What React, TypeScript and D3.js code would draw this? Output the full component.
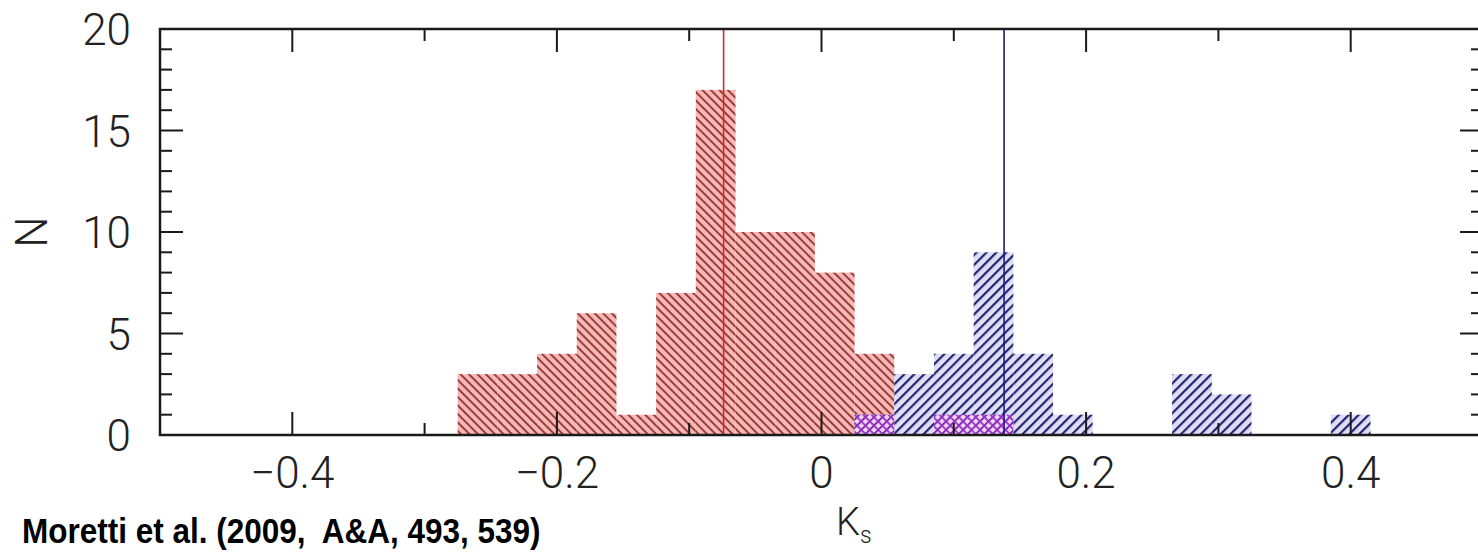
import * as d3 from 'd3';

const WIDTH = 1478;
const HEIGHT = 553;
const FRAME = { left: 160, right: 1483, top: 29, bottom: 435 };

// histogram bins (lower edge, bin width 0.03)
const binLo = [
    -0.275, -0.245, -0.215, -0.185, -0.155, -0.125, -0.095, -0.065, -0.035, -0.005, 0.025, 0.055,
    0.085, 0.115, 0.145, 0.175, 0.205, 0.235, 0.265, 0.295, 0.325, 0.355, 0.385,
];
const BIN_W = 0.03;
const redCounts = [3, 3, 4, 6, 1, 7, 17, 10, 10, 8, 4, 0, 1, 1, 0, 0, 0, 0, 0, 0, 0, 0, 0];
const blueCounts = [0, 0, 0, 0, 0, 0, 0, 0, 0, 0, 1, 3, 4, 9, 4, 1, 0, 0, 3, 2, 0, 0, 1];
const redMean = -0.074;
const blueMean = 0.138;

const xTickLabels = [-0.4, -0.2, 0, 0.2, 0.4];
const yTickLabels = [0, 5, 10, 15, 20];
const citation = 'Moretti et al. (2009,  A&A, 493, 539)';

const FONT = 'Roboto, "Liberation Sans", Arial, sans-serif';

export default function App() {
    const x = d3.scaleLinear().domain([-0.5, 0.5]).range([FRAME.left, FRAME.right]);
    const y = d3.scaleLinear().domain([0, 20]).range([FRAME.bottom, FRAME.top]);

    const xMinor = d3.range(-4, 5).map((d) => d / 10);
    const yMinor = d3.range(1, 20);
    const fmt = (v: number) => (v < 0 ? '\u2212' + Math.abs(v).toString() : v.toString());

    const overlap = redCounts.map((r, i) => Math.min(r, blueCounts[i]));

    const bars = (counts: number[], fill: string, key: string) =>
        counts.map((c, i) =>
            c > 0 ? (
                <rect
                    key={key + i}
                    x={x(binLo[i])}
                    y={y(c)}
                    width={x(binLo[i] + BIN_W) - x(binLo[i])}
                    height={y(0) - y(c)}
                    fill={fill}
                />
            ) : null
        );

    return (
        <svg
            width={WIDTH}
            height={HEIGHT}
            style={{ position: 'absolute', left: 0, top: 0, background: '#fff' }}
        >
            <defs>
                <pattern id="hatchRed" width={6} height={6} patternUnits="userSpaceOnUse" patternTransform="rotate(-45)">
                    <rect width={6} height={6} fill="#f6b9b6" />
                    <rect width={2} height={6} fill="#9c3c3c" />
                </pattern>
                <pattern id="hatchBlue" width={7} height={7} patternUnits="userSpaceOnUse" patternTransform="rotate(45)">
                    <rect width={7} height={7} fill="#dedef7" />
                    <rect width={2.2} height={7} fill="#25256e" />
                </pattern>
                <pattern id="hatchBoth" width={6} height={6} patternUnits="userSpaceOnUse" patternTransform="rotate(45)">
                    <rect width={6} height={6} fill="#f2d4f4" />
                    <rect width={1.8} height={6} fill="#7420b0" />
                    <rect width={6} height={1.8} fill="#9a30c4" />
                </pattern>
            </defs>

            {bars(redCounts, 'url(#hatchRed)', 'r')}
            {bars(blueCounts, 'url(#hatchBlue)', 'b')}
            {bars(overlap, 'url(#hatchBoth)', 'o')}

            {/* mean lines */}
            <line x1={x(redMean)} x2={x(redMean)} y1={FRAME.top} y2={FRAME.bottom} stroke="#d42a2a" strokeWidth={1.6} />
            <line x1={x(blueMean)} x2={x(blueMean)} y1={FRAME.top} y2={FRAME.bottom} stroke="#1a1a8c" strokeWidth={1.6} />

            {/* frame */}
            <rect
                x={FRAME.left}
                y={FRAME.top}
                width={FRAME.right - FRAME.left}
                height={FRAME.bottom - FRAME.top}
                fill="none"
                stroke="#1a1a1a"
                strokeWidth={2.5}
            />

            {/* x ticks, bottom and top */}
            {xMinor.map((v) => {
                const major = Math.round(v * 10) % 2 === 0;
                const len = major ? 23 : 12;
                return (
                    <g key={'xt' + v} stroke="#1a1a1a" strokeWidth={2}>
                        <line x1={x(v)} x2={x(v)} y1={FRAME.bottom} y2={FRAME.bottom - len} />
                        <line x1={x(v)} x2={x(v)} y1={FRAME.top} y2={FRAME.top + len} />
                    </g>
                );
            })}

            {/* y ticks, left and right */}
            {yMinor.map((v) => {
                const len = v % 5 === 0 ? 23 : 12;
                return (
                    <g key={'yt' + v} stroke="#1a1a1a" strokeWidth={2}>
                        <line x1={FRAME.left} x2={FRAME.left + len} y1={y(v)} y2={y(v)} />
                        <line x1={FRAME.right} x2={FRAME.right - len} y1={y(v)} y2={y(v)} />
                    </g>
                );
            })}

            {/* tick labels */}
            <g fontFamily={FONT} fontWeight={300} fontSize={44} fill="#222">
                {xTickLabels.map((v) => (
                    <text key={'xl' + v} x={x(v)} y={488} textAnchor="middle">
                        {fmt(v)}
                    </text>
                ))}
                {yTickLabels.map((v) => (
                    <text key={'yl' + v} x={131} y={y(v) + 16} textAnchor="end">
                        {v}
                    </text>
                ))}
            </g>

            {/* axis titles */}
            <text
                fontFamily={FONT}
                fontWeight={300}
                fontSize={44}
                fill="#222"
                textAnchor="middle"
                transform={`translate(47,${(FRAME.top + FRAME.bottom) / 2}) rotate(-90)`}
            >
                N
            </text>
            <text fontFamily={FONT} fontWeight={300} fontSize={38} fill="#222" x={836} y={535}>
                K
                <tspan fontSize={23} dy={8}>
                    s
                </tspan>
            </text>

            <text
                fontFamily={'"Liberation Sans", Arial, sans-serif'}
                fontSize={35}
                fontWeight="bold"
                fill="#000"
                transform="translate(22,543) scale(0.9,1)"
                style={{ whiteSpace: 'pre' }}
            >
                {citation}
            </text>
        </svg>
    );
}
